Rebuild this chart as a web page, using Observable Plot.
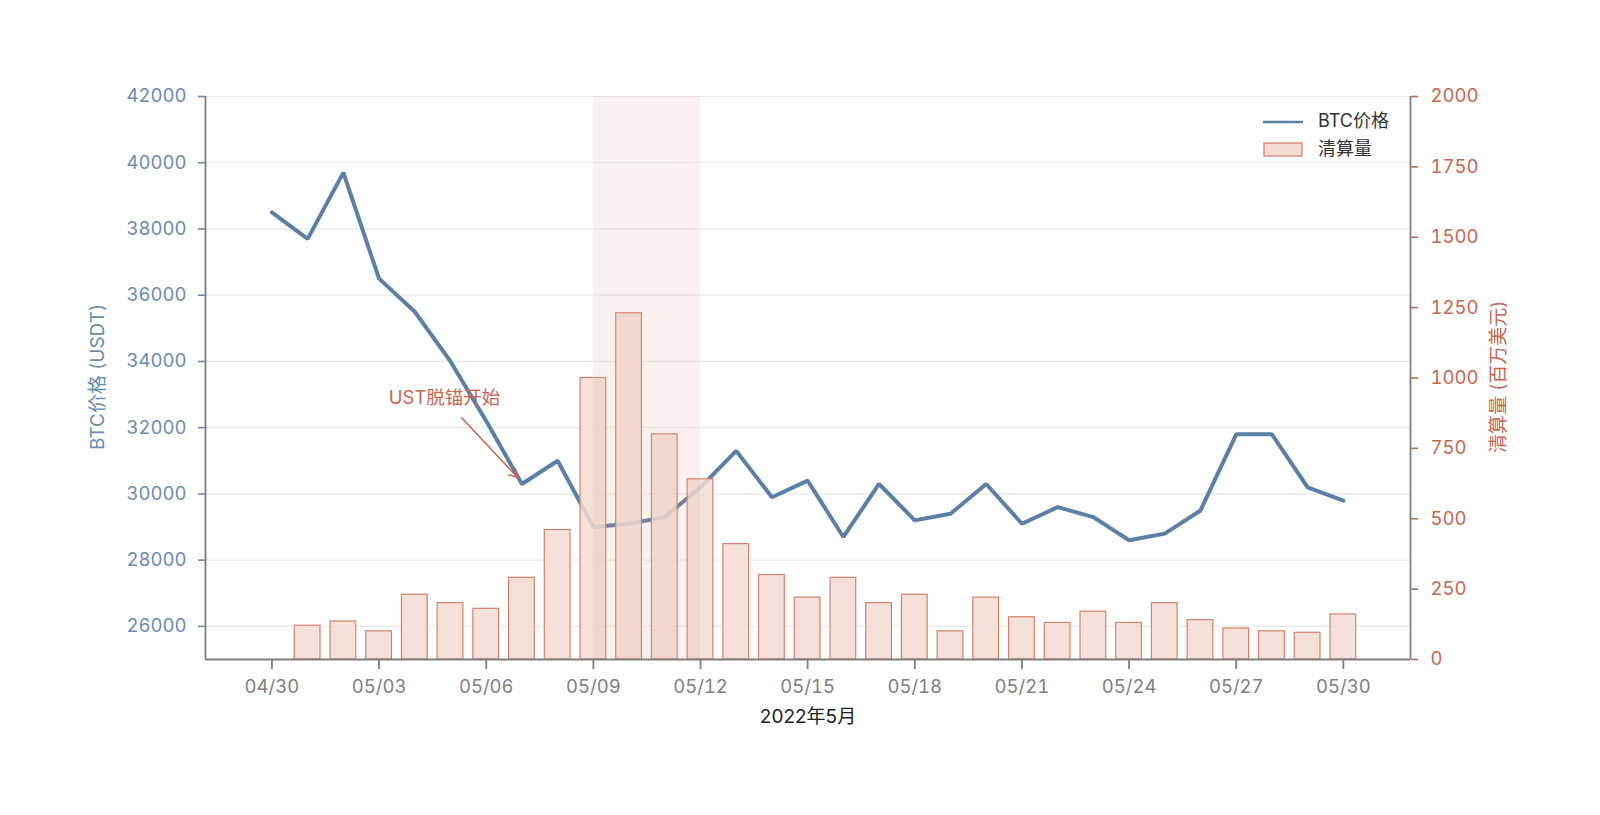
<!DOCTYPE html>
<html>
<head>
<meta charset="utf-8">
<script src="https://cdn.jsdelivr.net/npm/d3@7"></script>
<script src="https://cdn.jsdelivr.net/npm/@observablehq/plot@0.6"></script>
<style>
  html, body { margin: 0; padding: 0; background: #fff; }
  #chart { width: 1600px; height: 815px; }
</style>
</head>
<body>
<div id="chart"></div>
<script>
// ---- data ----
const priceDays = ["04-30","05-01","05-02","05-03","05-04","05-05","05-06","05-07","05-08","05-09","05-10",
  "05-11","05-12","05-13","05-14","05-15","05-16","05-17","05-18","05-19","05-20",
  "05-21","05-22","05-23","05-24","05-25","05-26","05-27","05-28","05-29","05-30"];
const btcPrice = [38500, 37700, 39700, 36500, 35500, 34000, 32200, 30300, 31000, 29000, 29100,
  29300, 30200, 31300, 29900, 30400, 28700, 30300, 29200, 29400, 30300,
  29100, 29600, 29300, 28600, 28800, 29500, 31800, 31800, 30200, 29800];
const liqDays = priceDays.slice(1);
const liquidation = [120, 135, 100, 230, 200, 180, 290, 460, 1000, 1230,
  800, 640, 410, 300, 220, 290, 200, 230, 100, 220,
  150, 130, 170, 130, 200, 140, 110, 100, 95, 160];
const priceTicks = [26000, 28000, 30000, 32000, 34000, 36000, 38000, 40000, 42000];
const liqTicks = [0, 250, 500, 750, 1000, 1250, 1500, 1750, 2000];
const xTickDays = ["04-30","05-03","05-06","05-09","05-12","05-15","05-18","05-21","05-24","05-27","05-30"];
const spanDays = ["05-09", "05-12"];
const annotLabel = "UST脱锚开始";
const annotTextAt = ["2022-05-04T20:00Z", 32900];
const annotArrowFrom = ["2022-05-05T07:30Z", 32300];
const annotArrowTo = ["2022-05-06T21:00Z", 30500];
const seriesNames = ["BTC价格", "清算量"];
const yLabelLeft = "BTC价格 (USDT)";
const yLabelRight = "清算量 (百万美元)";
const xLabel = "2022年5月";

// ---- helpers ----
const DAY = 864e5;
const toDate = (md) => new Date(`2022-${md}T00:00:00Z`);
const yMin = 25000, yMax = 42000, liqMax = 2000;
const liqToPrice = (v) => yMin + v * (yMax - yMin) / liqMax;

const priceData = priceDays.map((d, i) => ({date: toDate(d), price: btcPrice[i]}));
const liqData = liqDays.map((d, i) => ({date: toDate(d), liq: liquidation[i]}));
const xDomain = [new Date(toDate(priceDays[0]) - 1.86 * DAY), new Date(+toDate(priceDays[priceDays.length - 1]) + 1.88 * DAY)];

const BLUE = "#5b7fa5";
const BLUE_TXT = "#6a8bb2";
const RED = "#c8664f";
const BAR_FILL = "#f2dcd4";
const BAR_STROKE = "#d4826e";
const FONT = "Inter, 'Noto Sans CJK SC', sans-serif";

const svg = Plot.plot({
  width: 1600,
  height: 815,
  marginLeft: 205,
  marginRight: 190,
  marginTop: 96,
  marginBottom: 156,
  style: {fontFamily: FONT, fontSize: "18px", background: "#fff"},
  x: {type: "utc", domain: xDomain},
  y: {domain: [yMin, yMax]},
  marks: [
    Plot.gridY({ticks: priceTicks, stroke: "#e8e8e8", strokeOpacity: 1, strokeWidth: 1.2}),
    Plot.lineY(priceData, {x: "date", y: "price", stroke: BLUE, strokeWidth: 4, strokeLinejoin: "miter"}),
    Plot.rect(liqData, {
      x1: d => new Date(+d.date - 0.36 * DAY),
      x2: d => new Date(+d.date + 0.36 * DAY),
      y1: () => yMin,
      y2: d => liqToPrice(d.liq),
      fill: BAR_FILL, fillOpacity: 0.85, stroke: BAR_STROKE, strokeWidth: 1.2
    }),
    Plot.rect([{start: toDate(spanDays[0]), end: toDate(spanDays[1])}], {
      x1: "start", x2: "end", fill: "#e0a090", fillOpacity: 0.14
    }),
    Plot.axisY({anchor: "left", ticks: priceTicks, tickFormat: d => String(d), color: BLUE_TXT,
      tickSize: 7, tickPadding: 12, fontSize: 18.5, strokeWidth: 1.6, label: null}),
    Plot.axisY({anchor: "right", ticks: liqTicks.map(liqToPrice),
      tickFormat: v => String(Math.round((v - yMin) * liqMax / (yMax - yMin))),
      color: RED, tickSize: 7, tickPadding: 13, fontSize: 18.5, strokeWidth: 1.6, label: null}),
    Plot.axisX({ticks: xTickDays.map(toDate), tickFormat: d3.utcFormat("%m/%d"), color: "#808080",
      tickSize: 10, tickPadding: 10, fontSize: 18.5, strokeWidth: 1.8, label: null}),
    Plot.ruleY([yMin], {stroke: "#7f7f7f", strokeWidth: 1.8}),
    Plot.ruleX([xDomain[0]], {stroke: "#7f7f7f", strokeWidth: 1.8}),
    Plot.ruleX([xDomain[1]], {stroke: "#7f7f7f", strokeWidth: 1.8}),
    Plot.arrow([{x1: new Date(annotArrowFrom[0]), y1: annotArrowFrom[1], x2: new Date(annotArrowTo[0]), y2: annotArrowTo[1]}], {
      x1: "x1", y1: "y1", x2: "x2", y2: "y2", stroke: RED, strokeWidth: 1.5, headLength: 9
    }),
    Plot.text([{x: new Date(annotTextAt[0]), y: annotTextAt[1], t: annotLabel}], {
      x: "x", y: "y", text: "t", fill: RED, fontSize: 18.5
    })
  ]
});

document.getElementById("chart").appendChild(svg);

// ---- axis titles & legend ----
const s = d3.select(svg);
const g = s.append("g").attr("font-family", FONT);
g.append("text").attr("transform", "translate(99,377) rotate(-90)").attr("text-anchor", "middle")
  .attr("dominant-baseline", "middle").attr("fill", BLUE_TXT).attr("font-size", 19).text(yLabelLeft);
g.append("text").attr("transform", "translate(1500,377) rotate(-90)").attr("text-anchor", "middle")
  .attr("dominant-baseline", "middle").attr("fill", RED).attr("font-size", 19).text(yLabelRight);
g.append("text").attr("x", 808).attr("y", 718).attr("text-anchor", "middle")
  .attr("dominant-baseline", "middle").attr("fill", "#222").attr("font-size", 19).text(xLabel);

const lg = g.append("g").attr("text-anchor", "start");
lg.append("line").attr("x1", 1263).attr("x2", 1303).attr("y1", 122).attr("y2", 122)
  .attr("stroke", BLUE).attr("stroke-width", 2.4);
lg.append("text").attr("x", 1318).attr("y", 122).attr("text-anchor", "start").attr("dominant-baseline", "middle")
  .attr("fill", "#333").attr("font-size", 18).text(seriesNames[0]);
lg.append("rect").attr("x", 1264).attr("y", 143).attr("width", 38).attr("height", 13)
  .attr("fill", BAR_FILL).attr("stroke", BAR_STROKE).attr("stroke-width", 1.3);
lg.append("text").attr("x", 1318).attr("y", 150).attr("text-anchor", "start").attr("dominant-baseline", "middle")
  .attr("fill", "#333").attr("font-size", 18).text(seriesNames[1]);
</script>
</body>
</html>
